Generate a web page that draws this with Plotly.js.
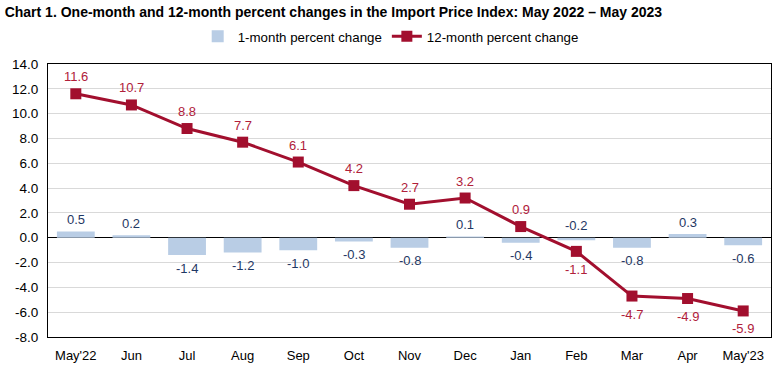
<!DOCTYPE html>
<html><head><meta charset="utf-8">
<script src="https://cdn.plot.ly/plotly-3.0.1.min.js"></script>
<style>html,body{margin:0;padding:0;background:#fff}#c{width:780px;height:372px}</style>
</head><body><div id="c"></div>
<script>
const months = ["May'22","Jun","Jul","Aug","Sep","Oct","Nov","Dec","Jan","Feb","Mar","Apr","May'23"];
const oneMonth = [0.5,0.2,-1.4,-1.2,-1.0,-0.3,-0.8,0.1,-0.4,-0.2,-0.8,0.3,-0.6];
const twelveMonth = [11.6,10.7,8.8,7.7,6.1,4.2,2.7,3.2,0.9,-1.1,-4.7,-4.9,-5.9];
const yTicks = [14,12,10,8,6,4,2,0,-2,-4,-6,-8];

const font = "Liberation Sans, Arial, sans-serif";
const barColor = "#b9cde5", lineColor = "#a20f2e";
const barText = "#1f3864", lineText = "#b0203a";

const annotations = [];
oneMonth.forEach((v,i)=>{
  const above = v >= 0 || months[i]==="Feb";
  annotations.push({x:months[i], y: above ? Math.max(v,0) : v, text:v.toFixed(1), showarrow:false,
    yshift: above ? 12 : -13, font:{family:font,size:13,color:barText}});
});
twelveMonth.forEach((v,i)=>{
  const below = v < 0;
  annotations.push({x:months[i], y:v, text:v.toFixed(1), showarrow:false,
    yshift: below ? -18 : 17, font:{family:font,size:13,color:lineText}});
});

const data = [
  {type:'bar', x:months, y:oneMonth, name:'1-month percent change', marker:{color:barColor}, width:0.68, hoverinfo:'skip'},
  {type:'scatter', mode:'lines+markers', x:months, y:twelveMonth, name:'12-month percent change',
   line:{color:lineColor,width:3}, marker:{symbol:'square',size:11,color:lineColor}}
];
const layout = {
  width:780, height:372, margin:{l:48,r:9,t:64,b:35},
  paper_bgcolor:'#fff', plot_bgcolor:'#fff',
  font:{family:font,size:13,color:'#000'},
  title:{text:'<b>Chart 1. One-month and 12-month percent changes in the Import Price Index: May 2022 – May 2023</b>',
    x:0.006, xanchor:'left', xref:'container', y:0.968, yanchor:'middle', yref:'container',
    font:{family:font,size:14,color:'#000'}},
  showlegend:true,
  legend:{orientation:'h', x:0.474, xanchor:'center', y:1.1, yanchor:'middle', font:{family:font,size:13.3,color:'#000'}, bgcolor:'rgba(0,0,0,0)'},
  xaxis:{type:'category', range:[-0.5,12.5], autorange:false, showline:true, linecolor:'#000', linewidth:1, mirror:true, ticks:'',
    tickfont:{family:font,size:13}, showgrid:false, ticklabelstandoff:6},
  yaxis:{range:[-8,14], autorange:false, tickvals:yTicks, ticktext:yTicks.map(v=>v.toFixed(1)), showline:true, linecolor:'#000', mirror:true,
    gridcolor:'#d9d9d9', zeroline:true, zerolinecolor:'#000', zerolinewidth:1, ticks:'', tickfont:{family:font,size:13.5}, ticklabelstandoff:6},
  annotations:annotations, bargap:0.32
};
Plotly.newPlot('c', data, layout, {displayModeBar:false, staticPlot:true});
</script></body></html>
